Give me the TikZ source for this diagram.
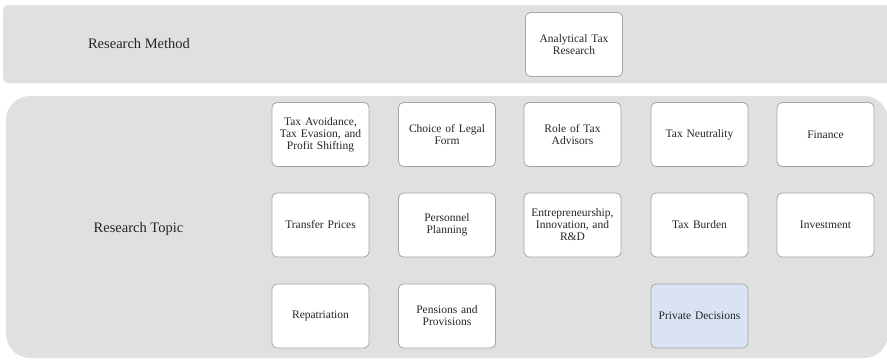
\documentclass[tikz,border=0pt]{standalone}
\usepackage{fontspec}
\setmainfont{Liberation Serif}
\usepackage{tikz}
\usepackage{xcolor}

\definecolor{bandgray}{HTML}{E0E0E0}
\definecolor{boxline}{HTML}{A6A6A6}
\definecolor{boxblue}{HTML}{DAE3F3}

\begin{document}
\begin{tikzpicture}[
            x = 1pt, y = -1pt, % pixel grid of the figure
            topic/.style = {shape=rectangle, rounded corners=5pt, draw=boxline, fill=white,
                line width=0.8pt, minimum width=97pt, minimum height=64pt,
                text width=95pt, align=center, inner sep=0pt,
                font=\fontsize{11.5}{12}\selectfont, text=black!85},
            band/.style = {fill=bandgray, draw=none},
            bandlabel/.style = {font=\fontsize{14.5}{16}\selectfont, text=black!85}
        ]
\useasboundingbox (0,0) rectangle (887,360);
\begin{scope}
\clip (0,0) rectangle (887,360);
\fill[band, rounded corners=5pt] (3,5) rectangle (900,83);
\fill[band, rounded corners=24pt] (6,96) rectangle (888,358);
\end{scope}

\node[bandlabel] (method) at (139,44) {Research Method};
\node[bandlabel] (topic) at (138.5,229) {Research Topic};

\node[topic] (analytical) at (574,44.5) {Analytical Tax\\Research};

% first row
\node[topic] (avoidance) at (320.5,134.5) {Tax Avoidance,\\Tax Evasion, and\\Profit Shifting};
\node[topic] (legal) at (447,134.5) {Choice of Legal\\Form};
\node[topic] (advisors) at (572.5,134.5) {Role of Tax\\Advisors};
\node[topic] (neutrality) at (699.5,134.5) {Tax Neutrality};
\node[topic] (finance) at (825.5,134.5) {Finance};

% second row
\node[topic] (transfer) at (320.5,225) {Transfer Prices};
\node[topic] (personnel) at (447,225) {Personnel\\Planning};
\node[topic] (entrepreneur) at (572.5,225) {Entrepreneurship,\\Innovation, and\\R\&D};
\node[topic] (burden) at (699.5,225) {Tax Burden};
\node[topic] (investment) at (825.5,225) {Investment};

% third row
\node[topic] (repatriation) at (320.5,316) {Repatriation};
\node[topic] (pensions) at (447,316) {Pensions and\\Provisions};
\node[topic, fill=boxblue] (private) at (699.5,316) {Private Decisions};
\end{tikzpicture}
\end{document}
